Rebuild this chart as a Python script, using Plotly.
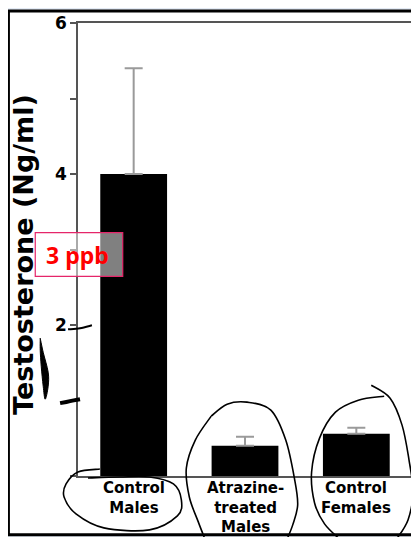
import plotly.graph_objects as go

# ---- data ----
categories = ["Control Males", "Atrazine-treated Males", "Control Females"]
category_labels = ["Control<br>Males", "Atrazine-<br>treated<br>Males", "Control<br>Females"]
testosterone = [4.0, 0.40, 0.56]
error_plus = [1.4, 0.12, 0.08]
y_tick_vals = [0, 1, 2, 3, 4, 5, 6]
y_tick_text = ["", "", "<b>2</b>", "", "<b>4</b>", "", "<b>6</b>"]

# ---- layout geometry (reference pixels; page body adds an 8px offset) ----
OFF = 8
W, H = 419 - OFF, 537 - OFF
L, R, T, B = 78, 414, 22, 476   # plot area in reference pixels


def px(x, y):
    return ((x - L) / (R - L), (B - y) / (B - T))


def smooth_path(points, closed=False):
    pts = [px(x, y) for x, y in points]
    if closed:
        pts = pts + pts[:1]
    n = len(pts)
    d = "M {:.4f},{:.4f}".format(*pts[0])
    for i in range(n - 1):
        p0 = pts[i - 1] if i > 0 else pts[i]
        p1 = pts[i]
        p2 = pts[i + 1]
        p3 = pts[i + 2] if i + 2 < n else pts[i + 1]
        c1 = (p1[0] + (p2[0] - p0[0]) / 6, p1[1] + (p2[1] - p0[1]) / 6)
        c2 = (p2[0] - (p3[0] - p1[0]) / 6, p2[1] - (p3[1] - p1[1]) / 6)
        d += " C {:.4f},{:.4f} {:.4f},{:.4f} {:.4f},{:.4f}".format(*c1, *c2, *p2)
    return d


fig = go.Figure()
fig.add_trace(go.Bar(
    x=categories, y=testosterone, width=0.6,
    marker=dict(color="black", line=dict(width=0)),
    error_y=dict(type="data", array=error_plus, arrayminus=[0, 0, 0],
                 color="#9a9a9a", thickness=2, width=9),
    showlegend=False,
))

shapes = []
# outer framed panel
x0, y0 = px(8, 10)
x1, y1 = px(440, 535)
shapes.append(dict(type="rect", xref="paper", yref="paper", x0=x0, y0=y1, x1=x1, y1=y0,
                   fillcolor="white", line=dict(color="black", width=3), layer="below"))
# "3 ppb" box
bx0, by0 = px(35, 232)
bx1, by1 = px(123, 276)
shapes.append(dict(type="rect", xref="paper", yref="paper", x0=bx0, y0=by1, x1=bx1, y1=by0,
                   fillcolor="rgba(255,255,255,0.5)", line=dict(color="#e5256a", width=1.2),
                   layer="above"))

ink = dict(color="black", width=1.6)
# hand-drawn loop round "Control Males"
shapes.append(dict(type="path", xref="paper", yref="paper", line=ink, layer="above",
                   path=smooth_path([(100, 469), (78, 472), (66, 484), (64, 497), (76, 514),
                                     (104, 528), (150, 530), (178, 516), (182, 500),
                                     (174, 484), (150, 477), (120, 477), (88, 478)])))
# loop round "Atrazine-treated Males"
shapes.append(dict(type="path", xref="paper", yref="paper", line=ink, layer="above",
                   path=smooth_path([(212, 416), (196, 440), (187, 468), (190, 497),
                                     (199, 522), (206, 540)])))
shapes.append(dict(type="path", xref="paper", yref="paper", line=ink, layer="above",
                   path=smooth_path([(212, 416), (228, 404), (248, 402), (272, 410),
                                     (287, 440), (296, 480), (299, 505), (294, 525),
                                     (288, 540)])))
# loop round "Control Females"
shapes.append(dict(type="path", xref="paper", yref="paper", line=ink, layer="above",
                   path=smooth_path([(386, 396), (360, 400), (337, 412), (321, 438),
                                     (313, 472), (316, 503), (326, 524), (342, 540)])))
shapes.append(dict(type="path", xref="paper", yref="paper", line=ink, layer="above",
                   path=smooth_path([(373, 385), (392, 398), (404, 425), (411, 460),
                                     (415, 492), (410, 520), (398, 540)])))
# scribbles near the y axis
shapes.append(dict(type="path", xref="paper", yref="paper",
                   line=dict(color="black", width=2), layer="above",
                   path=smooth_path([(68, 329), (80, 328), (92, 325)])))
shapes.append(dict(type="path", xref="paper", yref="paper",
                   line=dict(color="black", width=1), fillcolor="black", layer="above",
                   path=smooth_path([(40, 338), (43, 352), (48, 372), (48, 386), (45, 399),
                                     (43, 386), (41, 366), (40, 350)], closed=True)))
shapes.append(dict(type="path", xref="paper", yref="paper",
                   line=dict(color="black", width=4), layer="above",
                   path=smooth_path([(60, 403), (70, 401), (80, 399)])))

annotations = [
    dict(text="<b>Testosterone (Ng/ml)</b>", textangle=-90, xref="paper", yref="paper",
         x=px(23, 0)[0], y=px(0, 254)[1], xanchor="center", yanchor="middle",
         showarrow=False, font=dict(family="DejaVu Sans", size=27, color="black")),
    dict(text="<b>3 ppb</b>", xref="paper", yref="paper",
         x=px(77, 0)[0], y=px(0, 255)[1], xanchor="center", yanchor="middle",
         showarrow=False, font=dict(family="Noto Sans", size=23, color="#ff0000")),
]
# category labels under the bars
for cat, lab in zip(categories, category_labels):
    annotations.append(dict(
        text="<b>" + lab + "</b>", xref="x", yref="paper", x=cat,
        y=px(0, 478)[1], xanchor="center", yanchor="top", borderpad=0,
        showarrow=False, font=dict(family="DejaVu Sans", size=15, color="black")))

fig.update_layout(
    width=W, height=H,
    margin=dict(l=L - OFF, r=419 - R, t=T - OFF, b=537 - B, pad=0),
    paper_bgcolor="#e4ebf5", plot_bgcolor="white",
    shapes=shapes, annotations=annotations,
    xaxis=dict(range=[-0.5, 2.5], showline=True, linecolor="#555555", linewidth=1.5,
               mirror=True, ticks="", showgrid=False, showticklabels=False),
    yaxis=dict(range=[0, 6], showline=True, linecolor="#555555", linewidth=1.5,
               mirror=True, showgrid=False, zeroline=False,
               tickmode="array", tickvals=y_tick_vals, ticktext=y_tick_text,
               ticks="outside", ticklen=6, tickcolor="#555555", tickwidth=1.5,
               tickfont=dict(family="DejaVu Sans", size=17, color="black")),
)

fig.write_html("out.html")
